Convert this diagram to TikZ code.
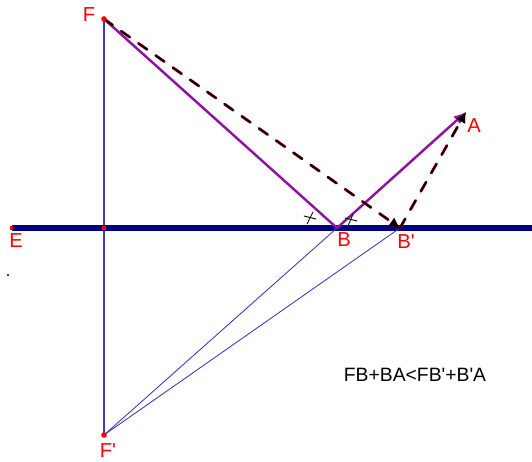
\documentclass[tikz,border=0pt]{standalone}
\usepackage{fontspec}
\setmainfont{Liberation Sans}
\usetikzlibrary{arrows.meta}
\definecolor{linenavy}{RGB}{0,0,128}
\definecolor{thinblue}{RGB}{60,60,190}
\definecolor{rayviolet}{RGB}{140,20,160}
\definecolor{ptred}{RGB}{255,0,0}
\newcommand{\pr}{\textquotesingle}
\tikzset{
  ptlabel/.style={text=ptred, font=\fontsize{11.5}{13}\selectfont, inner sep=0pt},
  mirror/.style={linenavy, line width=3.4pt},
  image ray/.style={thinblue, line width=0.5pt},
  ray/.style={rayviolet, line width=1.4pt},
  path dash/.style={line width=1.2pt, dash pattern=on 6pt off 6pt},
  anglemark/.style={black, line width=0.5pt}
}
\begin{document}
\begin{tikzpicture}[x=0.02cm, y=-0.02cm, >=Latex, line cap=round, line join=round]
		\useasboundingbox (0,0) rectangle (532,462);
		% points
		\coordinate (F) at (104,19);
		\coordinate (Fp) at (104,435);
		\coordinate (E) at (12,228);
		\coordinate (Eend) at (532,228);
		\coordinate (B) at (337,228);
		\coordinate (Bp) at (400,228);
		\coordinate (A) at (466,112);
		\coordinate (O) at (104,228);
		
		% mirror and normal
		\draw[thinblue, line width=1pt] (F) -- (Fp);
		\draw[mirror, line cap=butt] (E) -- (Eend);
		
		% image rays
		\draw[image ray] (Fp) -- (B);
		\draw[image ray] (Fp) -- (Bp);
		
		% real path
		\draw[ray] (F) -- (B);
		\draw[ray, -{Latex[length=7pt,width=6pt]}] (B) -- (A);
		
		% other path, dashed
		\draw[ptred, path dash, line width=1.6pt, yshift=1.2pt, -{Latex[length=6pt,width=6pt]}] (F) -- (Bp);
		\draw[black, path dash, -{Latex[length=6pt,width=6pt]}] (F) -- (Bp);
		\draw[ptred, path dash, line width=1.6pt, xshift=1.2pt, -{Latex[length=6pt,width=6pt]}] (Bp) -- (A);
		\draw[black, path dash, -{Latex[length=6pt,width=6pt]}] (Bp) -- (A);
		
		% angle marks at B
		\draw[anglemark] (307,224) -- (313,212);
		\draw[anglemark] (304,216) -- (316,219);
		\draw[anglemark] (348,226) -- (353,214);
		\draw[anglemark] (345,218) -- (357,221);
		
		% point marks
		\fill[ptred] (F) circle (1.6pt);
		\fill[ptred] (Fp) circle (1.6pt);
		\fill[ptred] (O) ++(-2,-2) rectangle ++(4,4);
		\fill[ptred] (E) ++(-2,-2) rectangle ++(3,4);
		\fill[black] (8,275) circle (0.6pt);
		
		% labels
		\node[ptlabel] (labF) at (89,15) {F};
		\node[ptlabel] (labFp) at (108,451) {F\pr};
		\node[ptlabel] (labE) at (16,241) {E};
		\node[ptlabel] (labB) at (344,240) {B};
		\node[ptlabel] (labBp) at (406,242) {B\pr};
		\node[ptlabel] (labA) at (474,126) {A};
		\node[font=\fontsize{11}{13}\selectfont, inner sep=0pt] (rel) at (415,375) {FB+BA<FB\pr+B\pr A};
	\end{tikzpicture}
\end{document}
